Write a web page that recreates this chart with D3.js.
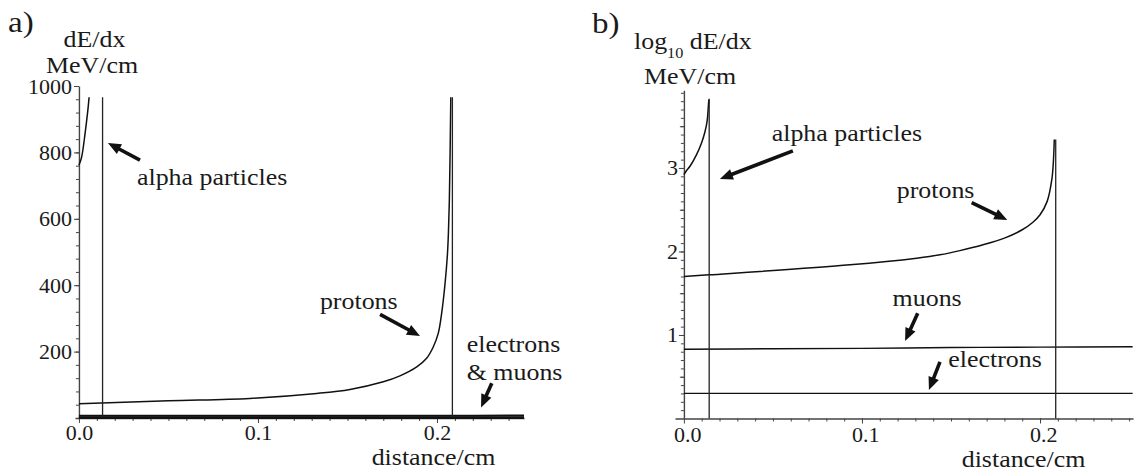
<!DOCTYPE html>
<html>
<head>
<meta charset="utf-8">
<script src="https://cdn.jsdelivr.net/npm/d3@7"></script>
<style>
  body { margin: 0; background: #fff; }
</style>
</head>
<body>
<svg id="chart" width="1137" height="472"></svg>
<script>
// ---- Panel a: stopping power dE/dx (MeV/cm) against distance (cm) ----
const alphaDistA   = [0, 0.0015, 0.0034, 0.0056, 0.0062];
const alphaDedxA   = [761, 786, 856, 962, 1030];
const alphaRangeA  = 0.0132;

const protonDistA  = [0, 0.05, 0.0955, 0.1328, 0.1514, 0.170, 0.1793, 0.1887, 0.1942,
                      0.1979, 0.2007, 0.2026, 0.2045, 0.2058, 0.2064, 0.2069, 0.2073, 0.2077, 0.2081];
const protonDedxA  = [43, 52, 59, 74, 86, 109, 127, 154, 180,
                      214, 255, 315, 405, 490, 560, 655, 790, 960, 1250];
const protonRangeA = 0.2086;

const leptonDist    = [0, 0.05, 0.10, 0.15, 0.20, 0.252];
const muonDedxA     = [6.8, 6.9, 7.0, 7.05, 7.1, 7.2];
const electronDedxA = [2.0, 2.0, 2.0, 2.0, 2.0, 2.0];

const yTicksA = [200, 400, 600, 800, 1000];

// ---- Panel b: log10 dE/dx against distance (cm) ----
const alphaDistB   = [0, 0.0015, 0.0034, 0.0071, 0.0099, 0.0118, 0.0131, 0.0137, 0.0140];
const alphaLogB    = [2.92, 2.97, 3.02, 3.16, 3.30, 3.43, 3.57, 3.73, 3.82];
const alphaRangeB  = 0.0142;

const protonDistB  = [0, 0.0142, 0.0933, 0.1307, 0.1438, 0.155, 0.168, 0.180, 0.190, 0.196,
                      0.200, 0.204, 0.2066, 0.2075, 0.2080];
const protonLogB   = [1.70, 1.72, 1.84, 1.92, 1.96, 2.01, 2.08, 2.16, 2.26, 2.35,
                      2.44, 2.60, 2.86, 3.08, 3.34];
const protonRangeB = 0.2088;

const muonLogB     = [0.83, 0.835, 0.84, 0.85, 0.855, 0.86];
const electronLogB = [0.30, 0.30, 0.30, 0.30, 0.30, 0.30];

const yTicksB = [1, 2, 3];
const xTicks  = [0.0, 0.1, 0.2];

const FONT = "'Liberation Serif', 'Times New Roman', Times, Tinos, 'Nimbus Roman', FreeSerif, 'Noto Serif', 'DejaVu Serif', serif";
const svg = d3.select("#chart");
const INK = "#111";
const AXIS = "#444";
const TXT = "#1a1a1a";

function zipPts(xs, ys) { return xs.map((d, i) => [d, ys[i]]); }

// horizontally widened text
function label(g, s, x, y, size, anchor, sx) {
  return g.append("text")
    .attr("transform", `translate(${x},${y}) scale(${sx || 1.08},1)`)
    .attr("font-family", FONT)
    .attr("font-size", size)
    .attr("fill", TXT)
    .attr("text-anchor", anchor || "start")
    .text(s);
}

function arrow(g, x1, y1, x2, y2) {
  const dx = x2 - x1, dy = y2 - y1, L = Math.hypot(dx, dy);
  const ux = dx / L, uy = dy / L, hl = 13, hw = 5.5;
  const bx = x2 - ux * hl, by = y2 - uy * hl;
  g.append("line")
    .attr("x1", x1).attr("y1", y1).attr("x2", bx + ux * 2).attr("y2", by + uy * 2)
    .attr("stroke", INK).attr("stroke-width", 3.6);
  g.append("path")
    .attr("d", `M${x2},${y2}L${bx - uy * hw},${by + ux * hw}L${bx + uy * hw},${by - ux * hw}Z`)
    .attr("fill", INK);
}

function drawPanel(cfg) {
  const g = svg.append("g");
  const x = d3.scaleLinear().domain(cfg.xDomain).range(cfg.xRange);
  const y = d3.scaleLinear().domain(cfg.yDomain).range(cfg.yRange);
  const x0 = x(0), y0 = y(0);

  const styleText = sel => sel
    .attr("font-size", 20).attr("fill", TXT).attr("font-family", FONT);

  // x axis: minor ticks, then labelled ones
  const minorX = d3.range(0.01, cfg.xDomain[1], 0.01);
  g.append("g").attr("transform", `translate(0,${y0})`)
    .call(d3.axisBottom(x).tickValues(minorX).tickSize(3).tickSizeOuter(0).tickFormat(""))
    .call(a => a.select(".domain").attr("stroke", AXIS).attr("stroke-width", 1.4))
    .call(a => a.selectAll(".tick line").attr("stroke", AXIS));
  g.append("g").attr("transform", `translate(0,${y0})`)
    .call(d3.axisBottom(x).tickValues(xTicks).tickSize(5).tickSizeOuter(0).tickFormat(d3.format(".1f")))
    .call(a => a.select(".domain").remove())
    .call(a => a.selectAll(".tick line").attr("stroke", AXIS))
    .call(a => a.selectAll("text").call(styleText)
      .attr("y", cfg.xLabelDy).attr("dy", 0).attr("x", cfg.xLabelDx)
      .attr("transform", "scale(1.1,1)"));

  // y axis
  g.append("g").attr("transform", `translate(${x0},0)`)
    .call(d3.axisLeft(y).tickValues(cfg.yMinor).tickSize(3).tickSizeOuter(0).tickFormat(""))
    .call(a => a.select(".domain").attr("stroke", AXIS).attr("stroke-width", 1.4))
    .call(a => a.selectAll(".tick line").attr("stroke", AXIS));
  if (cfg.yMid) {
    g.append("g").attr("transform", `translate(${x0},0)`)
      .call(d3.axisLeft(y).tickValues(cfg.yMid).tickSize(4).tickFormat(""))
      .call(a => a.select(".domain").remove())
      .call(a => a.selectAll(".tick line").attr("stroke", AXIS));
  }
  g.append("g").attr("transform", `translate(${x0},0)`)
    .call(d3.axisLeft(y).tickValues(cfg.yTicks).tickSize(5).tickFormat(d3.format("d")))
    .call(a => a.select(".domain").remove())
    .call(a => a.selectAll(".tick line").attr("stroke", AXIS))
    .call(a => a.selectAll("text").call(styleText)
      .attr("x", cfg.yLabelX / 1.1).attr("y", 7).attr("dy", 0)
      .attr("transform", "scale(1.1,1)"));

  // data, clipped to the viewing window
  const clipId = "clip-" + cfg.name;
  svg.append("clipPath").attr("id", clipId).append("rect")
    .attr("x", cfg.xRange[0]).attr("y", y(cfg.clipTop))
    .attr("width", cfg.xRange[1] - cfg.xRange[0])
    .attr("height", y0 + 2 - y(cfg.clipTop));
  const plot = g.append("g").attr("clip-path", `url(#${clipId})`);

  const line = d3.line().x(d => x(d[0])).y(d => y(d[1])).curve(d3.curveCatmullRom.alpha(0.5));
  cfg.curves.forEach(c => {
    plot.append("path").datum(c.pts).attr("d", line)
      .attr("fill", "none").attr("stroke", INK).attr("stroke-width", c.w || 1.5);
  });
  // end-of-range drops
  cfg.drops.forEach(dr => {
    plot.append("line")
      .attr("x1", x(dr.at)).attr("x2", x(dr.at))
      .attr("y1", y(dr.top)).attr("y2", y0)
      .attr("stroke", "#222").attr("stroke-width", 1.3);
  });

  // annotations
  cfg.notes.forEach(n => {
    n.lines.forEach((s, i) => label(g, s, x(n.x), y(n.y) + i * 28.5, 24, "start", 1.08));
    if (n.arrow) arrow(g, x(n.arrow[0]), y(n.arrow[1]), x(n.arrow[2]), y(n.arrow[3]));
  });

  label(g, "distance/cm", x(cfg.xTitleAt), y0 + cfg.xTitleDy, 24, "start", 1.08);
  return { g, x, y };
}

// ---- panel a ----
const A = drawPanel({
  name: "a",
  xDomain: [-0.0022, 0.2486], xRange: [75, 524],
  yDomain: [0, 1000], yRange: [418, 86],
  yMinor: d3.range(40, 1000, 40), yTicks: yTicksA,
  clipTop: 966,
  xLabelDy: 22, xLabelDx: 0, yLabelX: -7,
  curves: [
    { pts: zipPts(alphaDistA, alphaDedxA) },
    { pts: zipPts(protonDistA, protonDedxA) },
    { pts: zipPts(leptonDist, muonDedxA), w: 2 },
    { pts: zipPts(leptonDist, electronDedxA), w: 2 }
  ],
  drops: [
    { at: alphaRangeA, top: 1200 },
    { at: protonRangeA, top: 1200 }
  ],
  notes: [
    { lines: ["alpha particles"], x: 0.0324, y: 702, arrow: [0.0341, 777, 0.0162, 828] },
    { lines: ["protons"], x: 0.1346, y: 327, arrow: [0.1682, 312, 0.1905, 247] },
    { lines: ["electrons", "& muons"], x: 0.2166, y: 200, arrow: [0.2306, 104.5, 0.2246, 32] }
  ],
  xTitleAt: 0.1635, xTitleDy: 47
});
// heavy baseline where the lepton curves lie along the axis
A.g.append("line").attr("x1", A.x(0)).attr("x2", A.x(0.2486))
  .attr("y1", A.y(0)).attr("y2", A.y(0)).attr("stroke", INK).attr("stroke-width", 2);

label(A.g, "a)", 8, 32, 30, "start", 1.1);
label(A.g, "dE/dx", 94.5, 46.7, 24, "middle", 1.08);
label(A.g, "MeV/cm", 92, 72.7, 24, "middle", 1.08);

// ---- panel b ----
const B = drawPanel({
  name: "b",
  xDomain: [-0.005, 0.2522], xRange: [675, 1133],
  yDomain: [0, 3.93], yRange: [418.5, 90.3],
  yMinor: d3.range(0.1, 3.91, 0.1), yMid: [0.5, 1.5, 2.5, 3.5], yTicks: yTicksB,
  clipTop: 3.93,
  xLabelDy: 24, xLabelDx: 3, yLabelX: -6,
  curves: [
    { pts: zipPts(alphaDistB, alphaLogB) },
    { pts: zipPts(protonDistB, protonLogB) },
    { pts: zipPts(leptonDist, muonLogB), w: 1.4 },
    { pts: zipPts(leptonDist, electronLogB), w: 1.3 }
  ],
  drops: [
    { at: alphaRangeB, top: 3.83 },
    { at: protonRangeB, top: 3.34 }
  ],
  notes: [
    { lines: ["alpha particles"], x: 0.0493, y: 3.323, arrow: [0.0612, 3.204, 0.0202, 2.868] },
    { lines: ["protons"], x: 0.1195, y: 2.637, arrow: [0.1616, 2.584, 0.1816, 2.377] },
    { lines: ["muons"], x: 0.1172, y: 1.347, arrow: [0.1313, 1.26, 0.1242, 0.928] },
    { lines: ["electrons"], x: 0.1485, y: 0.620, arrow: [0.1438, 0.677, 0.1376, 0.341] }
  ],
  xTitleAt: 0.156, xTitleDy: 48.5
});

label(B.g, "b)", 592, 33, 30, "start", 1.1);
const lt = B.g.append("text")
  .attr("transform", "translate(634,49) scale(1.08,1)")
  .attr("font-family", FONT).attr("fill", TXT)
  .attr("font-size", 24);
lt.append("tspan").text("log");
lt.append("tspan").attr("font-size", 15).attr("dy", 9).text("10");
lt.append("tspan").attr("dy", -9).text(" dE/dx");
label(B.g, "MeV/cm", 690, 83.5, 24, "middle", 1.08);
</script>
</body>
</html>
